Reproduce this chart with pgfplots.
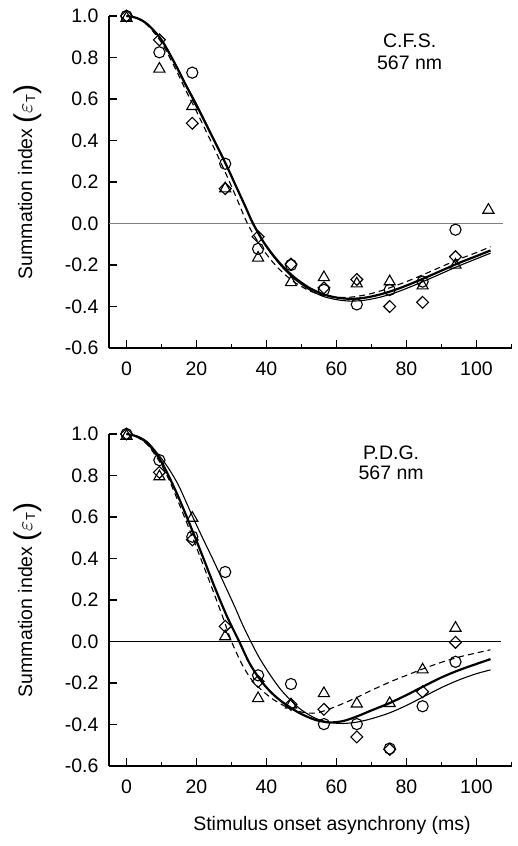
\documentclass[border=0pt]{standalone}
\usepackage{pgfplots}
\pgfplotsset{compat=1.18}
\usepackage{fontspec}
\setmainfont{Liberation Sans}
\newcommand{\bigparen}[1]{\raisebox{-1.7pt}{\fontsize{15}{15}\selectfont #1}}
\begin{document}
\begin{tikzpicture}[font=\fontsize{9.75}{11.7}\selectfont]
\useasboundingbox (-54.5pt,-40pt) rectangle (204.5pt,383pt);
\pgfplotsset{
  myaxis/.style={
    width=201.25pt, height=166pt, scale only axis,
    xmin=-5, xmax=110, ymin=-0.6, ymax=1.0,
    axis lines*=left,
    axis line style={line width=0.9pt},
    tick align=inside,
    xtick={0,20,40,60,80,100},
    minor xtick={10,30,50,70,90,110},
    ytick={-0.6,-0.4,-0.2,0,0.2,0.4,0.6,0.8,1.0},
    major tick length=3.75pt, minor tick length=2pt,
    every tick/.style={black, line width=0.7pt},
    xtick pos=bottom, ytick pos=left,
    /pgf/number format/assume math mode=true,
    yticklabel style={/pgf/number format/.cd, fixed, fixed zerofill, precision=1, /tikz/.cd, xshift=-1.75pt},
    xticklabel style={yshift=-3.6pt},
    ylabel={Summation index \bigparen{(}{\fontsize{11}{11}\selectfont$\varepsilon$}\raisebox{-1.5pt}{\fontsize{6.5}{7}\selectfont T}\bigparen{)}},
    ylabel style={at={(axis description cs:-0.191,0.5)}, anchor=base, inner sep=0pt},
    clip=false,
  },
  thickc/.style={black, line width=1.1pt, smooth, no marks},
  thinc/.style={black, line width=0.55pt, smooth, no marks},
  dashc/.style={black, line width=0.55pt, dash pattern=on 3pt off 2pt, smooth, no marks},
  circ/.style={only marks, mark=o, mark size=2.8pt, mark options={black, line width=0.55pt}},
  tri/.style={only marks, mark=triangle, mark size=3.2pt, mark options={black, line width=0.55pt}},
  dia/.style={only marks, mark=square, mark size=2.1pt, mark options={black, line width=0.55pt, rotate=45}},
}
% ---------------- top panel: C.F.S.
\begin{axis}[myaxis, at={(0pt,209pt)}, anchor=south west]
\addplot[gray, line width=0.5pt] coordinates {(-5,0) (107.5,0)};
\addplot[thickc] coordinates {(0,1.000) (3,0.990) (6,0.960) (10,0.885) (14,0.765) (17,0.665) (20,0.570) (24,0.435) (28,0.300) (31,0.190) (34,0.080) (36,0.005) (39,-0.085) (42,-0.155) (45,-0.213) (48,-0.260) (52,-0.308) (56,-0.340) (60,-0.357) (64,-0.363) (68,-0.358) (72,-0.344) (76,-0.324) (80,-0.299) (85,-0.264) (90,-0.227) (95,-0.190) (100,-0.157) (104,-0.130)};
\addplot[thinc] coordinates {(0,1.000) (3,0.990) (6,0.960) (10,0.885) (14,0.768) (17,0.670) (20,0.575) (24,0.440) (28,0.303) (31,0.192) (34,0.080) (36,0.004) (39,-0.088) (42,-0.160) (45,-0.220) (48,-0.268) (52,-0.317) (56,-0.350) (60,-0.367) (64,-0.374) (68,-0.370) (72,-0.357) (76,-0.338) (80,-0.313) (85,-0.278) (90,-0.241) (95,-0.204) (100,-0.170) (104,-0.143)};
\addplot[dashc] coordinates {(0,1.000) (3,0.988) (6,0.955) (10,0.872) (14,0.745) (17,0.640) (20,0.540) (24,0.400) (28,0.255) (31,0.140) (34,0.020) (36,-0.045) (39,-0.125) (42,-0.190) (45,-0.242) (48,-0.283) (52,-0.322) (56,-0.346) (60,-0.356) (64,-0.355) (68,-0.345) (72,-0.328) (76,-0.305) (80,-0.280) (85,-0.245) (90,-0.208) (95,-0.172) (100,-0.140) (104,-0.112)};
\addplot[circ] coordinates {(0,1.0) (9.4,0.825) (18.8,0.727) (28.2,0.288) (37.6,-0.122) (47,-0.20) (56.4,-0.32) (65.8,-0.39) (75.2,-0.32) (84.6,-0.28) (94,-0.03)};
\addplot[tri] coordinates {(0,0.99) (9.4,0.745) (18.8,0.565) (28.2,0.168) (37.6,-0.166) (47,-0.284) (56.4,-0.26) (65.8,-0.29) (75.2,-0.28) (84.6,-0.30) (94,-0.20) (103.4,0.065)};
\addplot[dia] coordinates {(0,1.0) (9.4,0.885) (18.8,0.483) (28.2,0.168) (37.6,-0.064) (47,-0.196) (56.4,-0.31) (65.8,-0.27) (75.2,-0.40) (84.6,-0.38) (94,-0.16)};
\node[anchor=base] at (axis cs:80.9,0.850) {C.F.S.};
\node[anchor=base] at (axis cs:80.9,0.744) {567 nm};
\end{axis}
% ---------------- bottom panel: P.D.G.
\begin{axis}[myaxis, at={(0pt,0pt)}, anchor=south west,
  xlabel={Stimulus onset asynchrony (ms)},
  xlabel style={at={(axis description cs:0.554,0)}, anchor=base, yshift=-32.3pt}]
\addplot[black, line width=0.5pt] coordinates {(-5,0) (107,0)};
\addplot[thickc] coordinates {(0,1.000) (3,0.988) (6,0.955) (9.4,0.882) (12,0.800) (15,0.690) (18.8,0.535) (22,0.400) (25,0.270) (28,0.148) (30,0.075) (32.2,0.000) (35,-0.100) (38,-0.180) (41,-0.240) (44,-0.285) (47,-0.320) (50,-0.350) (54,-0.378) (58,-0.390) (62,-0.383) (66,-0.360) (70,-0.332) (75,-0.298) (80,-0.258) (85,-0.215) (90,-0.173) (95,-0.138) (100,-0.108) (104,-0.085)};
\addplot[thinc] coordinates {(0,1.000) (3,0.990) (6,0.962) (9.4,0.895) (12,0.835) (15,0.748) (18.8,0.605) (22,0.490) (25,0.385) (28,0.275) (31,0.165) (33,0.087) (35.5,0.000) (38,-0.080) (41,-0.160) (44,-0.230) (47,-0.285) (50,-0.330) (54,-0.370) (58,-0.390) (62,-0.395) (66,-0.388) (70,-0.372) (75,-0.345) (80,-0.308) (85,-0.265) (90,-0.222) (95,-0.185) (100,-0.155) (104,-0.137)};
\addplot[dashc] coordinates {(0,1.000) (3,0.985) (6,0.948) (9.4,0.868) (12,0.785) (15,0.665) (18.8,0.505) (22,0.365) (25,0.232) (28,0.095) (30,0.000) (33,-0.110) (36,-0.190) (39,-0.240) (42,-0.280) (46,-0.318) (50,-0.340) (54,-0.345) (58,-0.325) (62,-0.298) (66,-0.268) (70,-0.235) (76,-0.190) (80,-0.163) (85,-0.130) (90,-0.100) (95,-0.075) (100,-0.055) (104,-0.040)};
\addplot[circ] coordinates {(0,1.0) (9.4,0.874) (18.8,0.505) (28.2,0.335) (37.6,-0.163) (47,-0.205) (56.4,-0.398) (65.8,-0.398) (75.2,-0.516) (84.6,-0.312) (94,-0.098)};
\addplot[tri] coordinates {(0,0.99) (9.4,0.795) (18.8,0.595) (28.2,0.024) (37.6,-0.274) (47,-0.305) (56.4,-0.25) (65.8,-0.30) (75.2,-0.298) (84.6,-0.136) (94,0.065)};
\addplot[dia] coordinates {(0,1.0) (9.4,0.815) (18.8,0.49) (28.2,0.073) (37.6,-0.193) (47,-0.303) (56.4,-0.327) (65.8,-0.46) (75.2,-0.52) (84.6,-0.242) (94,-0.004)};
\node[anchor=base] at (axis cs:75.6,0.879) {P.D.G.};
\node[anchor=base] at (axis cs:75.6,0.782) {567 nm};
\end{axis}
\end{tikzpicture}
\end{document}
